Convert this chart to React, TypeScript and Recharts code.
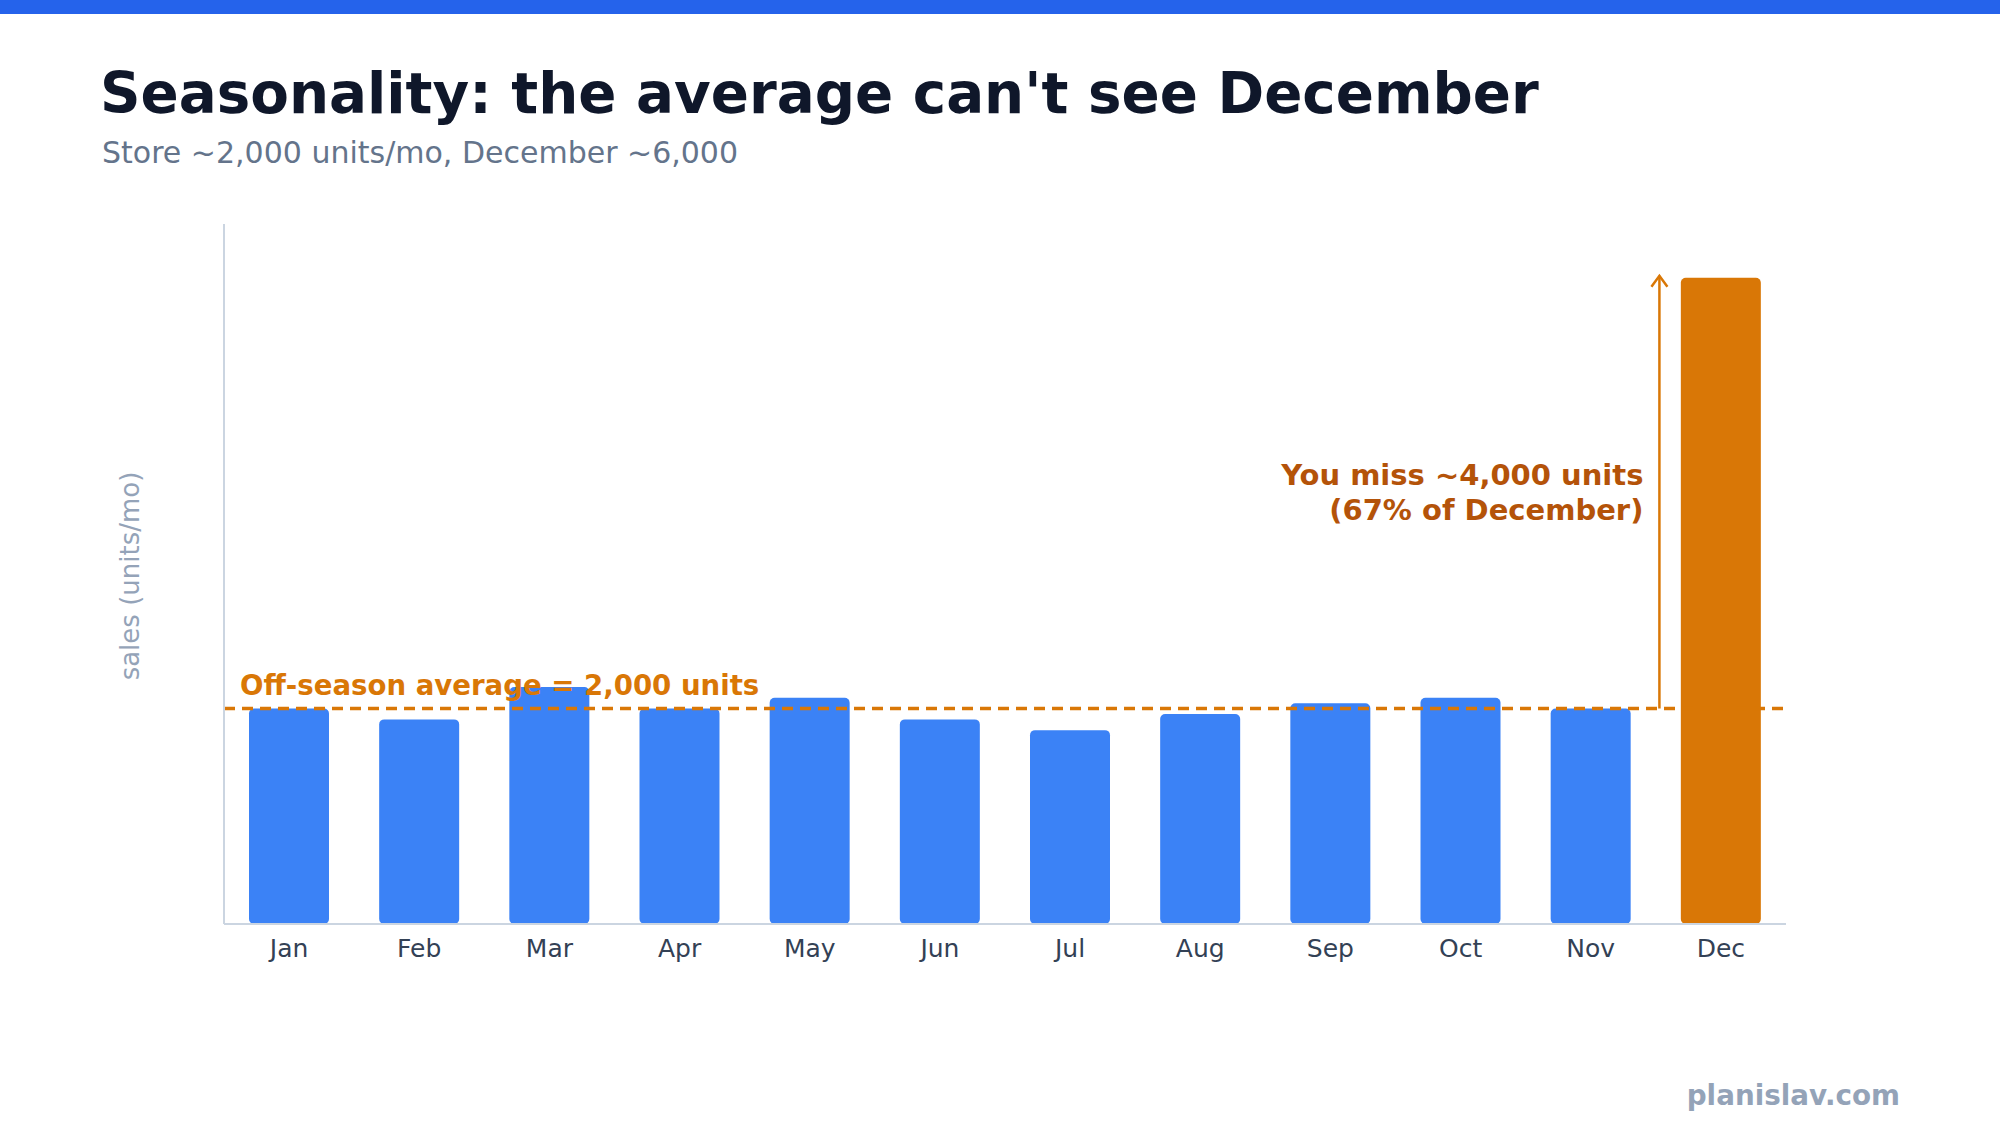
import React from 'react';
import { BarChart, Bar, XAxis, YAxis, Cell, ReferenceLine } from 'recharts';

// Monthly store sales (units/mo)
const MONTHS = ['Jan', 'Feb', 'Mar', 'Apr', 'May', 'Jun', 'Jul', 'Aug', 'Sep', 'Oct', 'Nov', 'Dec'];
const SALES = [2000, 1900, 2200, 2000, 2100, 1900, 1800, 1950, 2050, 2100, 2000, 6000];
const PEAK_MONTH = 'Dec';
const OFF_SEASON_AVG = 2000;
const PEAK_VALUE = 6000;
const Y_DOMAIN: [number, number] = [0, 6500];

const TITLE = "Seasonality: the average can't see December";
const SUBTITLE = 'Store ~2,000 units/mo, December ~6,000';
const Y_LABEL = 'sales (units/mo)';
const AVG_LABEL = 'Off-season average = 2,000 units';
const MISS_LINES = ['You miss ~4,000 units', '(67% of December)'];
const WATERMARK = 'planislav.com';

const COLORS = {
    bar: '#3b82f6',
    peak: '#d97706',
    avg: '#d97706',
    missText: '#b45309',
    axis: '#cbd5e1',
    tick: '#334155',
    title: '#0f172a',
    subtitle: '#64748b',
    muted: '#94a3b8',
    topBar: '#2563eb'
};

const FONT = '"DejaVu Sans", Verdana, sans-serif';

const data = MONTHS.map((month, i) => ({ month, sales: SALES[i] }));

// dashed average line with its label above the left end
const AvgLine = (props: any) => {
    const { x1, y1, x2, y2 } = props;
    return (
        <g>
            <line x1={x1} y1={y1} x2={x2} y2={y2} stroke={COLORS.avg} strokeWidth={3.5} strokeDasharray="11 7" />
            <text x={x1 + 16} y={y1 - 14} fill={COLORS.avg} fontSize={27.6} fontWeight="bold">
                {AVG_LABEL}
            </text>
        </g>
    );
};

// arrow from the average up to the December peak, shifted left of the bar
const MissArrow = (props: any) => {
    const { x1, y1, y2 } = props;
    const x = x1 - 61.5;
    const top = Math.min(y1, y2) - 2;
    const bottom = Math.max(y1, y2);
    const mid = (top + bottom) / 2;
    return (
        <g>
            <line x1={x} y1={bottom} x2={x} y2={top} stroke={COLORS.avg} strokeWidth={2.5} />
            <polyline
                points={`${x - 8},${top + 11} ${x},${top} ${x + 8},${top + 11}`}
                fill="none"
                stroke={COLORS.avg}
                strokeWidth={2.5}
            />
            <text x={x - 16} y={mid - 7} textAnchor="end" fill={COLORS.missText} fontSize={29} fontWeight="bold">
                {MISS_LINES[0]}
            </text>
            <text x={x - 16} y={mid + 28} textAnchor="end" fill={COLORS.missText} fontSize={29} fontWeight="bold">
                {MISS_LINES[1]}
            </text>
        </g>
    );
};

export default function App() {
    return (
        <div
            style={{
                position: 'fixed',
                left: 0,
                top: 0,
                width: 2000,
                height: 1125,
                background: '#ffffff',
                fontFamily: FONT
            }}
        >
            <BarChart
                width={2000}
                height={1125}
                data={data}
                margin={{ top: 224, right: 214, bottom: 161, left: 222 }}
            >
                <XAxis
                    dataKey="month"
                    height={40}
                    axisLine={{ stroke: COLORS.axis, strokeWidth: 2 }}
                    tickLine={false}
                    tickSize={0}
                    tickMargin={15}
                    tick={{ fill: COLORS.tick, fontSize: 25 }}
                    interval={0}
                />
                <YAxis
                    domain={Y_DOMAIN}
                    width={2}
                    tick={false}
                    tickLine={false}
                    axisLine={{ stroke: COLORS.axis, strokeWidth: 2 }}
                />
                <Bar dataKey="sales" barSize={80} radius={5} isAnimationActive={false}>
                    {data.map((d) => (
                        <Cell key={d.month} fill={d.month === PEAK_MONTH ? COLORS.peak : COLORS.bar} />
                    ))}
                </Bar>
                <ReferenceLine y={OFF_SEASON_AVG} shape={AvgLine} />
                <ReferenceLine
                    segment={[
                        { x: PEAK_MONTH, y: OFF_SEASON_AVG },
                        { x: PEAK_MONTH, y: PEAK_VALUE }
                    ]}
                    shape={MissArrow}
                />
            </BarChart>

            <svg
                width={2000}
                height={1125}
                style={{ position: 'absolute', left: 0, top: 0, pointerEvents: 'none' }}
                fontFamily={FONT}
            >
                <rect x={0} y={0} width={2000} height={14} fill={COLORS.topBar} />
                <text x={100} y={113} fontSize={56.3} fontWeight="bold" fill={COLORS.title}>
                    {TITLE}
                </text>
                <text x={102} y={163} fontSize={30} fill={COLORS.subtitle}>
                    {SUBTITLE}
                </text>
                <text
                    x={130}
                    y={576}
                    transform="rotate(-90, 130, 576)"
                    textAnchor="middle"
                    dominantBaseline="central"
                    fontSize={26}
                    fill={COLORS.muted}
                >
                    {Y_LABEL}
                </text>
                <text x={1900} y={1105} textAnchor="end" fontSize={27.8} fontWeight="bold" fill={COLORS.muted}>
                    {WATERMARK}
                </text>
            </svg>
        </div>
    );
}
